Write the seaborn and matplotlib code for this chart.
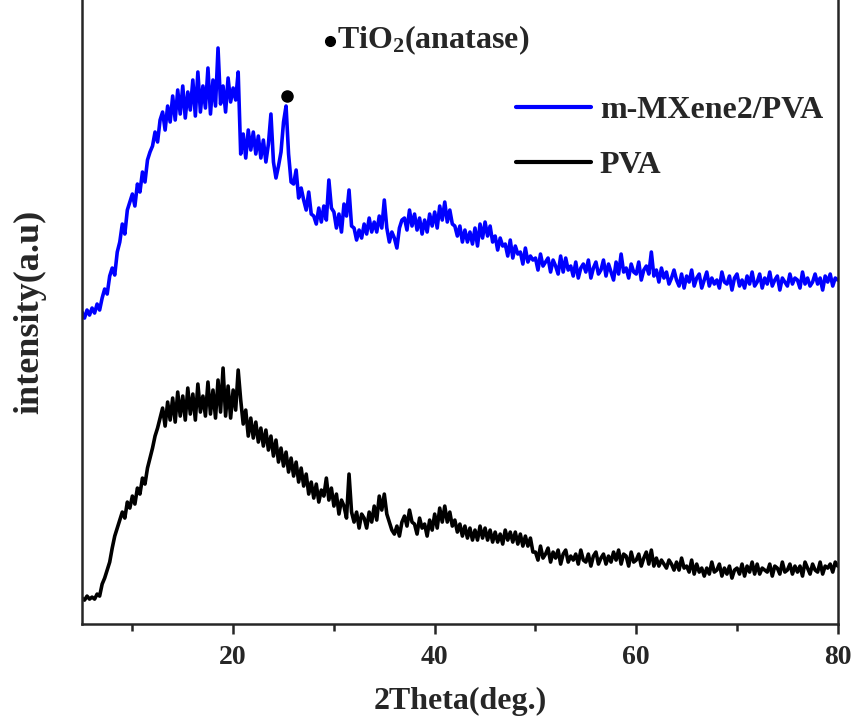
import numpy as np
import pandas as pd
import matplotlib
matplotlib.use("Agg")
import matplotlib.pyplot as plt
import seaborn as sns

# 2theta scan grid, 0.25 deg step from 5 to 80
two_theta = np.arange(5, 80.001, 0.25)

# intensity (a.u.) of m-MXene2/PVA, 4 points per degree
mxene_pva = [
    312, 306, 314, 309,  316, 311, 320, 314,  326, 335, 330, 348,  356, 349, 372, 382,
    400, 390, 414, 422,  430, 418, 440, 432,  452, 442, 464, 472,  478, 492, 482, 504,
    512, 494, 518, 502,  528, 504, 534, 510,  538, 506, 532, 514,  544, 508, 552, 512,
    538, 516, 556, 510,  544, 518, 576, 520,  538, 512, 546, 522,  536, 524, 552, 470,
    490, 466, 494, 474,  492, 470, 488, 466,  484, 462, 480, 510,  462, 446, 458, 472,
    502, 518, 470, 442,  440, 454, 426, 436,  424, 414, 432, 410,  408, 400, 416, 402,
    418, 404, 444, 416,  412, 396, 410, 392,  420, 408, 434, 398,  396, 384, 394, 386,
    400, 390, 406, 392,  402, 392, 408, 396,  424, 396, 382, 392,  386, 376, 396, 404,
    406, 394, 414, 398,  410, 394, 406, 390,  404, 392, 410, 398,  412, 396, 418, 404,
    422, 402, 414, 400,  398, 388, 398, 382,  394, 382, 392, 380,  396, 378, 400, 386,
    402, 388, 398, 382,  388, 374, 386, 378,  380, 368, 384, 366,  378, 370, 372, 360,
    376, 362, 368, 364,  366, 354, 370, 358,  362, 366, 352, 364,  358, 350, 368, 352,
    366, 354, 358, 348,  362, 346, 356, 360,  352, 364, 346, 356,  362, 350, 354, 364,
    348, 360, 352, 344,  362, 350, 370, 352,  356, 346, 360, 352,  350, 362, 344, 354,
    358, 350, 372, 348,  354, 342, 356, 346,  352, 340, 346, 354,  344, 338, 350, 336,
    348, 342, 354, 338,  346, 350, 336, 344,  352, 338, 346, 340,  344, 336, 352, 342,
    340, 348, 334, 346,  350, 338, 344, 336,  348, 340, 352, 338,  342, 350, 336, 346,
    340, 352, 338, 344,  348, 334, 346, 342,  338, 350, 340, 346,  344, 336, 352, 340,
    346, 338, 342, 350,  340, 346, 334, 348,  342, 350, 338, 346,
    344,
]

# intensity (a.u.) of neat PVA, 4 points per degree
pva = [
    26, 24, 28, 25,  27, 25, 30, 28,  40, 46, 54, 62,  76, 88, 96, 104,
    112, 106, 122, 116,  128, 120, 136, 130,  146, 140, 156, 166,  176, 188, 196, 206,
    216, 198, 222, 204,  226, 202, 232, 208,  228, 204, 236, 210,  230, 204, 240, 212,
    228, 208, 242, 210,  234, 206, 244, 212,  256, 208, 238, 206,  234, 214, 254, 224,
    200, 214, 188, 206,  186, 202, 182, 196,  178, 194, 174, 188,  168, 184, 162, 176,
    158, 172, 152, 166,  148, 162, 142, 156,  138, 150, 130, 142,  126, 140, 122, 134,
    128, 146, 124, 136,  118, 130, 110, 124,  118, 106, 150, 112,  102, 112, 96, 110,
    106, 96, 112, 102,  118, 104, 128, 114,  130, 110, 102, 94,  90, 98, 88, 102,
    108, 98, 114, 102,  100, 90, 106, 96,  100, 88, 104, 94,  110, 96, 116, 102,
    118, 102, 112, 98,  104, 92, 100, 88,  98, 86, 96, 84,  94, 84, 98, 86,
    96, 84, 94, 82,  92, 82, 90, 80,  94, 84, 92, 82,  92, 80, 90, 78,
    88, 78, 86, 72,  72, 64, 78, 66,  70, 76, 62, 72,  66, 74, 60, 70,
    74, 62, 68, 64,  70, 60, 74, 64,  62, 70, 58, 68,  72, 60, 66, 70,
    60, 68, 62, 72,  64, 74, 60, 70,  68, 58, 72, 62,  64, 70, 58, 66,
    72, 60, 74, 58,  66, 58, 64, 60,  56, 64, 60, 54,  62, 54, 66, 56,
    58, 52, 64, 50,  60, 52, 56, 48,  56, 50, 62, 52,  54, 60, 48, 56,
    50, 58, 46, 54,  56, 50, 60, 48,  58, 52, 62, 50,  60, 50, 56, 54,
    52, 60, 48, 58,  56, 50, 62, 52,  54, 60, 50, 58,  52, 58, 48, 62,
    56, 50, 60, 54,  52, 62, 50, 58,  56, 60, 52, 62,
    58,
]
assert len(mxene_pva) == len(two_theta) and len(pva) == len(two_theta)

series_names = ["m-MXene2/PVA", "PVA"]
series_colors = ["#0000ff", "#000000"]

# TiO2 (anatase) reflection marked on the composite pattern
anatase_peak_x = 25.3
anatase_peak_y = 528

df = pd.DataFrame({
    "two_theta": np.concatenate([two_theta, two_theta]),
    "intensity": np.concatenate([mxene_pva, pva]),
    "sample": np.repeat(series_names, len(two_theta)),
})

sns.set_theme(style="ticks")
plt.rcParams["font.family"] = ["Liberation Serif", "DejaVu Serif"]
plt.rcParams["font.weight"] = "bold"
plt.rcParams["mathtext.fontset"] = "custom"
plt.rcParams["mathtext.rm"] = "Liberation Serif:bold"
plt.rcParams["mathtext.it"] = "Liberation Serif:bold"
plt.rcParams["mathtext.bf"] = "Liberation Serif:bold"

fig = plt.figure(figsize=(8.54, 7.24), dpi=100)
ax = fig.add_axes([0.096, 0.138, 0.885, 0.862])

sns.lineplot(data=df, x="two_theta", y="intensity", hue="sample",
             hue_order=series_names, palette=series_colors,
             linewidth=2.6, ax=ax, estimator=None, sort=False)

# anatase marker on the peak and the key above the plot
ax.plot([anatase_peak_x], [anatase_peak_y], "o", color="black", markersize=8)
ax.plot([0.3275], [0.935], "o", color="black", markersize=7, transform=ax.transAxes)
ax.text(0.337, 0.935, "TiO$_2$(anatase)", fontsize=23, fontweight="bold",
        va="center", ha="left", transform=ax.transAxes)

ax.set_xlim(5, 80)
ax.set_ylim(0, 624)
ax.set_xticks([20, 40, 60, 80])
ax.set_xticks([10, 30, 50, 70], minor=True)
ax.set_yticks([])
ax.tick_params(axis="x", which="major", direction="out", length=7, width=1.8,
               labelsize=20, pad=8)
ax.tick_params(axis="x", which="minor", direction="out", length=5, width=1.8)
for lbl in ax.get_xticklabels():
    lbl.set_fontweight("bold")

for side in ["left", "right", "bottom"]:
    ax.spines[side].set_linewidth(1.8)
ax.spines["top"].set_visible(False)

ax.set_xlabel("2Theta(deg.)", fontsize=23, fontweight="bold", labelpad=12)
ax.set_ylabel("intensity(a.u)", fontsize=26, fontweight="bold", labelpad=26)

leg = ax.legend(loc="upper left", bbox_to_anchor=(0.536, 0.8925), frameon=False,
                fontsize=23, handlelength=2.35, handletextpad=0.28, labelspacing=0.8)
for t in leg.get_texts():
    t.set_fontweight("bold")
for h in leg.legend_handles:
    h.set_linewidth(3)

fig.savefig("out.png", dpi=100)
